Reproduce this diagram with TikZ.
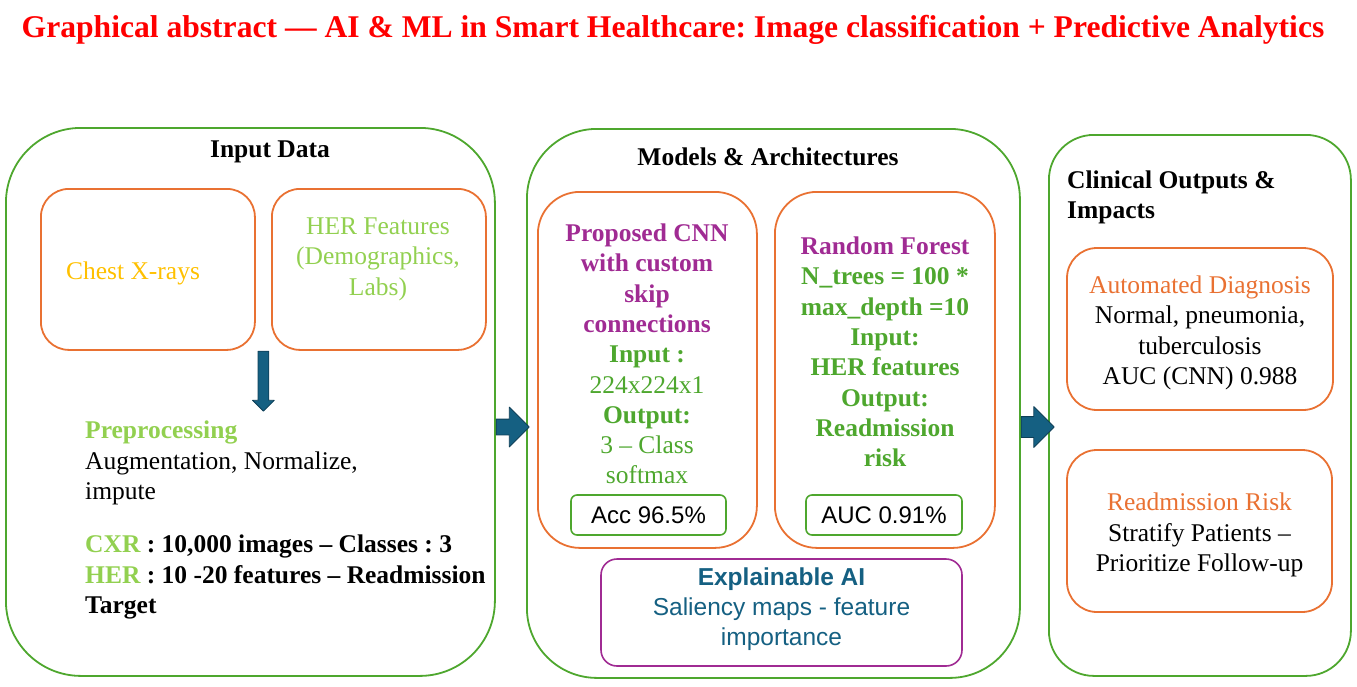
\documentclass[tikz,border=0pt]{standalone}
\usepackage{fontspec}
\setmainfont{Liberation Serif}
\setsansfont{Liberation Sans}
\usetikzlibrary{calc,shapes.arrows}
\frenchspacing
\definecolor{ink}{RGB}{0,0,0}
\definecolor{titlered}{RGB}{255,0,0}
\definecolor{panelgreen}{HTML}{4EA72E}
\definecolor{boxorange}{HTML}{E97132}
\definecolor{modelpurple}{HTML}{A02B93}
\definecolor{fieldgreen}{HTML}{4EA72E}
\definecolor{paleleaf}{HTML}{92D050}
\definecolor{xraygold}{HTML}{FFC000}
\definecolor{arrowblue}{HTML}{156082}
\definecolor{arrowedge}{HTML}{0E3F57}

\begin{document}
\begin{tikzpicture}[
  x=1pt,
  y=-1pt,
  font=\rmfamily\fontsize{25.5}{30.5}\selectfont,
  line cap=round,
  line join=round,
  titletext/.style={
    font=\rmfamily\bfseries\fontsize{31.6}{36}\selectfont,
    text=titlered,
    anchor=base,
    inner sep=0pt
  },
  panel/.style={
    draw=panelgreen,
    line width=1.8pt,
    rounded corners=#1,
    anchor=north west,
    inner sep=0pt
  },
  heading/.style={
    font=\rmfamily\bfseries\fontsize{25.5}{30}\selectfont,
    text=ink,
    inner sep=0pt
  },
  sourcebox/.style={
    draw=boxorange,
    line width=1.8pt,
    rounded corners=28pt,
    anchor=north west,
    inner sep=0pt
  },
  modelbox/.style={
    draw=boxorange,
    line width=1.8pt,
    rounded corners=42pt,
    anchor=north west,
    inner sep=0pt
  },
  bodytext/.style={
    text=ink,
    inner sep=0pt
  },
  modeltext/.style={
    font=\rmfamily\bfseries\fontsize{25.5}{30.3}\selectfont,
    text=fieldgreen,
    align=center,
    inner sep=0pt
  },
  scorebox/.style={
    draw=panelgreen,
    line width=1.6pt,
    rounded corners=6pt,
    inner sep=0pt,
    font=\sffamily\fontsize{24}{28}\selectfont,
    text=ink
  },
  xaibox/.style={
    draw=modelpurple,
    line width=1.6pt,
    rounded corners=16pt,
    inner sep=0pt
  },
  xaitext/.style={
    align=center,
    text=arrowblue,
    inner sep=0pt,
    font=\sffamily\fontsize{24.5}{30}\selectfont
  },
  outcomebox/.style={
    draw=boxorange,
    line width=1.8pt,
    rounded corners=30pt,
    inner sep=0pt
  },
  blockarrow/.style={
    single arrow,
    draw=arrowedge,
    fill=arrowblue,
    line width=0.8pt,
    single arrow head indent=0pt
  }
]
\useasboundingbox (0,0) rectangle (1357,686);

% Title.
\node[titletext] (title) at (673,37)
  {Graphical abstract — AI \& ML in Smart Healthcare: Image classification + Predictive Analytics};

% ---------------------------------------------------------------------------
% Panel 1: input data and preprocessing.
% ---------------------------------------------------------------------------
\node[panel=75pt, minimum width=489, minimum height=548] (inputpanel) at (5,127) {};
\node[heading, anchor=base] (inputtitle) at (270,157) {Input Data};

\node[sourcebox, minimum width=214, minimum height=161] (chestbox) at (40,188) {};
\node[bodytext, text=xraygold] (chesttext) at (133,273) {Chest X-rays};

\node[sourcebox, minimum width=214, minimum height=161] (herbox) at (271,188) {};
\node[bodytext, text=paleleaf, align=center] (hertext) at (378,259)
  {HER Features\\(Demographics,\\Labs)};

\coordinate (dropstart) at ($(chestbox.south east)!0.5!(herbox.south west)$);
\node[blockarrow, shape border rotate=270, anchor=tail, inner sep=5pt,
      minimum height=60, minimum width=21, single arrow head extend=5.5pt]
  (droparrow) at (dropstart) {};

\node[bodytext, anchor=west, align=left] (preptext) at (85,463)
  {\textcolor{paleleaf}{\textbf{Preprocessing}}\\
   Augmentation, Normalize,\\
   impute};

\node[bodytext, anchor=west, align=left,
      font=\rmfamily\bfseries\fontsize{25.5}{30.5}\selectfont] (datasets) at (85,577)
  {\textcolor{paleleaf}{CXR} : 10,000 images – Classes : 3\\
   \textcolor{paleleaf}{HER} : 10 -20 features – Readmission\\
   Target};

% ---------------------------------------------------------------------------
% Panel 2: the two models, their scores and the explanation layer.
% ---------------------------------------------------------------------------
\node[panel=70pt, minimum width=493, minimum height=549] (modelpanel) at (526,128) {};
\node[heading, anchor=base] (modeltitle) at (768,165) {Models \& Architectures};

\node[modelbox, minimum width=219, minimum height=356] (cnnbox) at (537,191) {};
\node[modeltext] (cnntext) at (647,354)
  {\textcolor{modelpurple}{Proposed CNN}\\
   \textcolor{modelpurple}{with custom}\\
   \textcolor{modelpurple}{skip}\\
   \textcolor{modelpurple}{connections}\\
   Input :\\
   \textmd{224x224x1}\\
   Output:\\
   \textmd{3 – Class}\\
   \textmd{softmax}};
\node[scorebox, minimum width=155, minimum height=40] (cnnscore) at (648.5,515) {Acc 96.5\%};

\node[modelbox, minimum width=220, minimum height=356] (rfbox) at (774,191) {};
\node[modeltext] (rftext) at (885,352)
  {\textcolor{modelpurple}{Random Forest}\\
   N\_trees = 100 *\\
   max\_depth =10\\
   Input:\\
   HER features\\
   Output:\\
   Readmission\\
   risk};
\node[scorebox, minimum width=156, minimum height=40] (rfscore) at (884,515) {AUC 0.91\%};

\node[xaibox, minimum width=361, minimum height=107] (explain) at (781.5,612.5) {};
\node[xaitext] (explaintext) at (781.5,609)
  {\textbf{Explainable AI}\\Saliency maps - feature\\importance};

% ---------------------------------------------------------------------------
% Panel 3: clinical outputs.
% ---------------------------------------------------------------------------
\node[panel=45pt, minimum width=302, minimum height=541] (clinicpanel) at (1048,134) {};
\node[heading, anchor=west, align=left] (clinictitle) at (1067,197.5)
  {Clinical Outputs \&\\Impacts};

\node[outcomebox, minimum width=266, minimum height=162] (diagnosis) at (1200,329) {};
\node[bodytext, align=center] (diagnosistext) at (1200,333)
  {\textcolor{boxorange}{Automated Diagnosis}\\
   Normal, pneumonia,\\
   tuberculosis\\
   AUC (CNN) 0.988};

\node[outcomebox, minimum width=265, minimum height=162] (readmit) at (1199.5,531) {};
\node[bodytext, align=center] (readmittext) at (1199.5,535)
  {\textcolor{boxorange}{Readmission Risk}\\
   Stratify Patients –\\
   Prioritize Follow-up};

% Block arrows between the panels.
\coordinate (arrowrow) at (0,427);
\node[blockarrow, anchor=tail, inner sep=7.5pt,
      minimum height=33, minimum width=39, single arrow head extend=12pt]
  (modelarrow) at (inputpanel.east |- arrowrow) {};
\node[blockarrow, anchor=tail, inner sep=10pt,
      minimum height=33, minimum width=40, single arrow head extend=10pt]
  (outputarrow) at (modelpanel.east |- arrowrow) {};

\end{tikzpicture}
\end{document}
